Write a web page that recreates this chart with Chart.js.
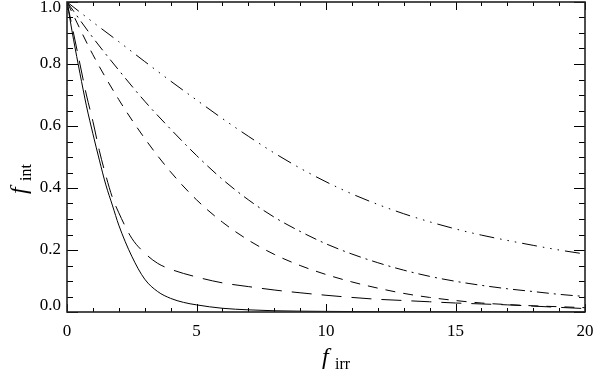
<!DOCTYPE html>
<html>
<head>
<meta charset="utf-8">
<script src="https://cdn.jsdelivr.net/npm/chart.js@4"></script>
<style>
  html, body { margin: 0; padding: 0; background: #fff; }
  #wrap { width: 594px; height: 376px; }
</style>
</head>
<body>
<div id="wrap"><canvas id="fChart"></canvas></div>
<script>
// values
const solidX = [0, 0.25, 0.5, 0.75, 1, 1.25, 1.5, 1.75, 2, 2.5, 3, 3.5, 4, 4.5, 5, 6, 7, 8, 10, 12, 15, 20];
const solidY = [1, 0.88, 0.77, 0.665, 0.575, 0.49, 0.41, 0.345, 0.28, 0.18, 0.106, 0.066, 0.044, 0.031, 0.023, 0.012, 0.007, 0.004, 0.002, 0.001, 0.0005, 0.0002];

const longDashX = [0, 0.25, 0.5, 0.75, 1, 1.25, 1.5, 1.75, 2, 2.5, 3, 3.5, 4, 5, 6, 7, 8, 9, 10, 11, 12, 13, 14, 15, 16, 17, 18, 19, 20];
const longDashY = [1, 0.9, 0.8, 0.7, 0.615, 0.52, 0.44, 0.37, 0.32, 0.238, 0.19, 0.157, 0.138, 0.113, 0.094, 0.082, 0.071, 0.062, 0.054, 0.047, 0.041, 0.037, 0.033, 0.029, 0.026, 0.023, 0.019, 0.015, 0.011];

const stepX = [0, 1, 2, 3, 4, 5, 6, 7, 8, 9, 10, 11, 12, 13, 14, 15, 16, 17, 18, 19, 20];
const shortDashY = [1, 0.83, 0.685, 0.56, 0.452, 0.362, 0.29, 0.232, 0.186, 0.15, 0.121, 0.097, 0.077, 0.06, 0.047, 0.037, 0.029, 0.024, 0.02, 0.017, 0.014];
const dashDotY = [1, 0.885, 0.78, 0.68, 0.59, 0.505, 0.428, 0.362, 0.306, 0.26, 0.22, 0.187, 0.159, 0.135, 0.115, 0.099, 0.086, 0.075, 0.066, 0.057, 0.05];
const dashDot3Y = [1, 0.935, 0.872, 0.808, 0.745, 0.684, 0.624, 0.567, 0.513, 0.464, 0.42, 0.381, 0.347, 0.317, 0.291, 0.268, 0.248, 0.231, 0.215, 0.2, 0.187];

const xTicks = [0, 5, 10, 15, 20];
const yTicks = [0, 0.2, 0.4, 0.6, 0.8, 1.0];

const serif = '"Liberation Serif", "DejaVu Serif", serif';

const toPts = (xs, ys) => xs.map((x, i) => ({x: x, y: ys[i]}));

const line = (label, xs, ys, dash) => ({
    label: label,
    data: toPts(xs, ys),
    showLine: true,
    borderColor: '#000',
    borderWidth: 1,
    borderDash: dash,
    borderCapStyle: 'butt',
    pointRadius: 0,
    fill: false,
    cubicInterpolationMode: 'monotone'
});

// inward ticks on all four sides, the frame and the axis titles
const frameTicks = {
    id: 'frameTicks',
    beforeDraw(chart) {
        const ys = chart.scales.y;
        const area = chart.chartArea;
        ys.getLabelItems().forEach((it) => {
            const t = it.options.translation;
            t[1] = Math.min(Math.max(t[1], area.top + 6), area.bottom - 6);
        });
    },
    afterDraw(chart) {
        const ctx = chart.ctx;
        const {left, right, top, bottom} = chart.chartArea;
        const xs = chart.scales.x, ys = chart.scales.y;
        ctx.save();
        ctx.strokeStyle = '#000';
        ctx.lineWidth = 1;
        ctx.beginPath();
        for (let v = 0; v <= 20; v++) {
            const px = Math.round(xs.getPixelForValue(v)) + 0.5;
            const len = v % 5 === 0 ? 8 : 4;
            ctx.moveTo(px, bottom); ctx.lineTo(px, bottom - len);
            ctx.moveTo(px, top); ctx.lineTo(px, top + len);
        }
        for (let k = 0; k <= 20; k++) {
            const py = Math.round(ys.getPixelForValue(k * 0.05)) + 0.5;
            const len = k % 4 === 0 ? 11 : 6;
            ctx.moveTo(left, py); ctx.lineTo(left + len, py);
            ctx.moveTo(right, py); ctx.lineTo(right - len, py);
        }
        ctx.stroke();
        ctx.lineWidth = 1.6;
        ctx.strokeStyle = '#222';
        ctx.strokeRect(left, top, right - left, bottom - top);

        ctx.fillStyle = '#000';
        ctx.textBaseline = 'alphabetic';
        // x title
        ctx.font = 'italic 24px ' + serif;
        ctx.fillText('f', 322, 364);
        ctx.font = '16px ' + serif;
        ctx.fillText('irr', 335, 369);
        // y title
        ctx.translate(26, 194);
        ctx.rotate(-Math.PI / 2);
        ctx.font = 'italic 24px ' + serif;
        ctx.fillText('f', 0, 0);
        ctx.font = '16px ' + serif;
        ctx.fillText('int', 13, 5);
        ctx.restore();
    }
};

const ch = document.getElementById('fChart');
new Chart(ch, {
    type: 'scatter',
    data: {
        datasets: [
            line('solid', solidX, solidY, []),
            line('long dash', longDashX, longDashY, [20, 10]),
            line('dash', stepX, shortDashY, [10, 8]),
            line('dash dot', stepX, dashDotY, [12, 5, 2, 5]),
            line('dash dot dot dot', stepX, dashDot3Y, [15, 6, 1.5, 6, 1.5, 6, 1.5, 6])
        ]
    },
    options: {
        responsive: true,
        maintainAspectRatio: false,
        animation: false,
        layout: {padding: {left: 0, right: 9, top: 2, bottom: 0}},
        plugins: {legend: {display: false}, tooltip: {enabled: false}},
        scales: {
            x: {
                type: 'linear', min: 0, max: 20,
                afterBuildTicks: (s) => { s.ticks = xTicks.map((v) => ({value: v})); },
                afterFit: (s) => { s.height = 64; s.paddingLeft = 0; s.paddingRight = 0; },
                grid: {display: false, drawTicks: false},
                border: {display: false},
                ticks: {color: '#000', padding: 9, maxRotation: 0, font: {family: serif, size: 17}}
            },
            y: {
                type: 'linear', min: 0, max: 1,
                afterBuildTicks: (s) => { s.ticks = yTicks.map((v) => ({value: v})); },
                afterFit: (s) => { s.width = 67; s.paddingTop = 0; s.paddingBottom = 0; },
                grid: {display: false, drawTicks: false},
                border: {display: false},
                ticks: {color: '#000', padding: 6, font: {family: serif, size: 17},
                        callback: (v) => Number(v).toFixed(1)}
            }
        }
    },
    plugins: [frameTicks]
});
</script>
</body>
</html>
